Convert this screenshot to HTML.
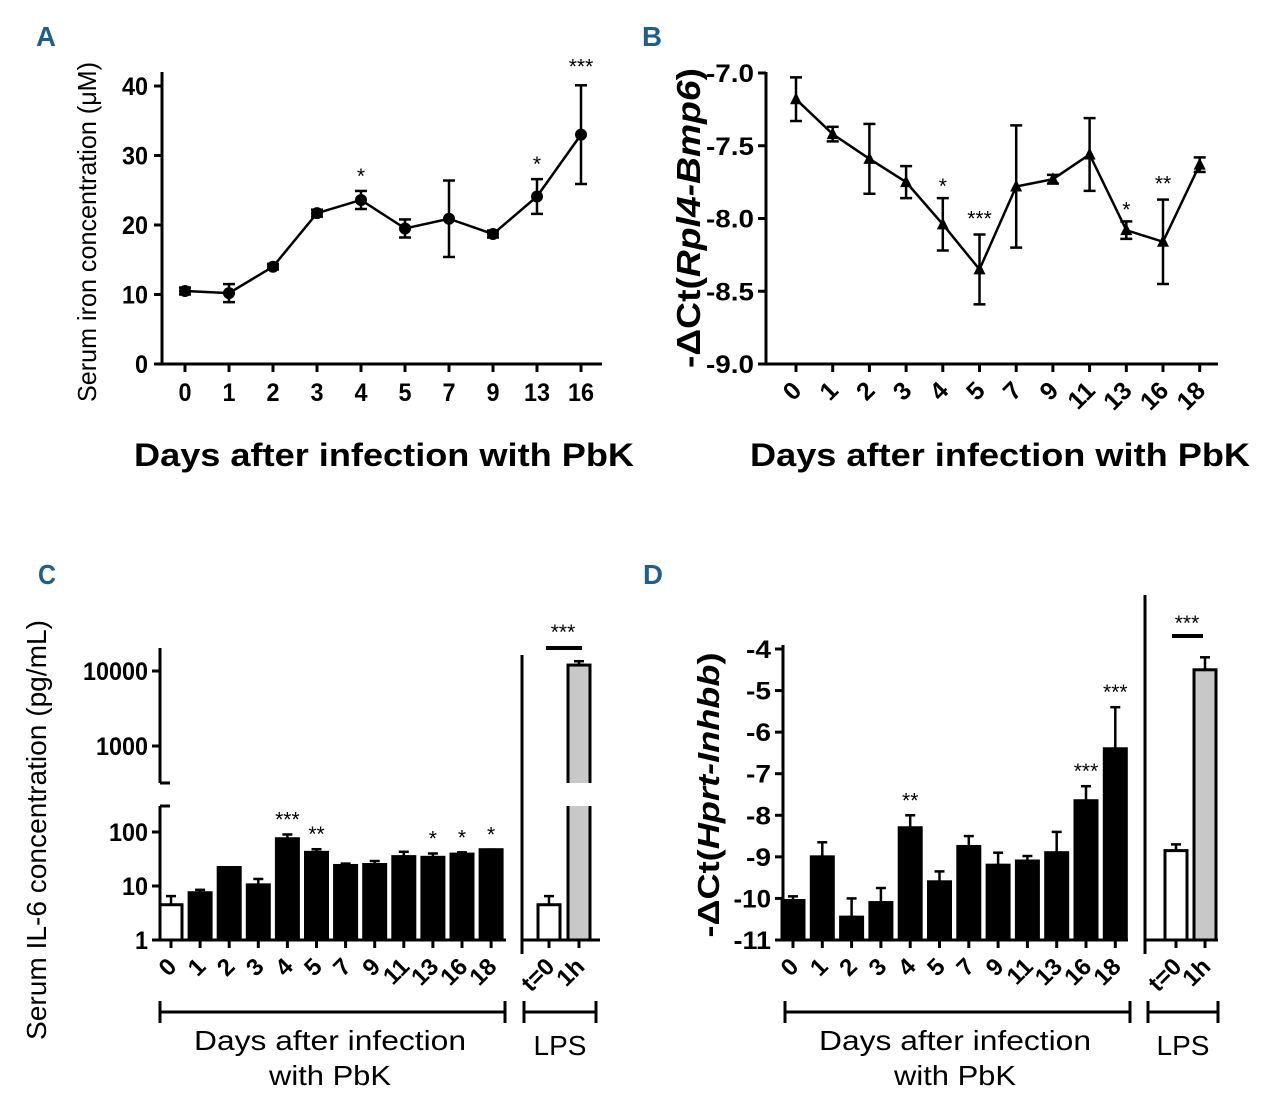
<!DOCTYPE html>
<html><head><meta charset="utf-8"><style>
body{margin:0;background:#fff}
svg{display:block;font-family:"Liberation Sans",sans-serif}
</style></head><body>
<svg id="fig" width="1280" height="1118" viewBox="0 0 1280 1118" xmlns="http://www.w3.org/2000/svg">
<g fill="#1f5f8b" font-weight="bold" font-size="28">
<text x="36" y="46" textLength="20" lengthAdjust="spacingAndGlyphs">A</text>
<text x="642" y="46" textLength="20" lengthAdjust="spacingAndGlyphs">B</text>
<text x="38" y="584" textLength="18" lengthAdjust="spacingAndGlyphs">C</text>
<text x="643" y="584" textLength="20" lengthAdjust="spacingAndGlyphs">D</text>
</g>
<g id="A"></g>
<g id="B"></g>
<g id="C"></g>
<g id="D"></g>
</svg>
<script>
// Panel A data
const aCats=["0","1","2","3","4","5","7","9","13","16"];
const aVals=[10.5,10.2,14,21.7,23.6,19.5,20.9,18.7,24.1,33];
const aErr=[0.5,1.3,0.4,0.5,1.3,1.3,5.5,0.5,2.5,7.1];
const aStars=["","","","","*","","","","*","***"];
const aTicks=[0,10,20,30,40];
// Panel B data
const bCats=["0","1","2","3","4","5","7","9","11","13","16","18"];
const bVals=[-7.18,-7.42,-7.59,-7.75,-8.04,-8.35,-7.78,-7.73,-7.56,-8.08,-8.16,-7.63];
const bErr=[0.15,0.05,0.24,0.11,0.18,0.24,0.42,0.03,0.25,0.06,0.29,0.05];
const bStars=["","","","","*","***","","","","*","**",""];
const bTicks=[-7.0,-7.5,-8.0,-8.5,-9.0];
// Panel C data
const cCats=["0","1","2","3","4","5","7","9","11","13","16","18"];
const cVals=[4.5,7.5,22,10.5,75,42,24,25,35,34,39,47];
const cErrTop=[6.5,8.5,22,13.5,90,48,26,29,43,40,42,47];
const cStars=["","","","","***","**","","","","*","*","*"];
const cLpsCats=["t=0","1h"];
const cLpsVals=[4.5,12000];
const cLpsErrTop=[6.5,13500];
const cTicksLow=[1,10,100];
const cTicksHigh=[1000,10000];
// Panel D data
const dCats=["0","1","2","3","4","5","7","9","11","13","16","18"];
const dVals=[-10.05,-9.0,-10.45,-10.1,-8.3,-9.6,-8.75,-9.2,-9.1,-8.9,-7.65,-6.4];
const dErrTop=[-9.95,-8.65,-10.0,-9.75,-8.0,-9.35,-8.5,-8.9,-8.98,-8.4,-7.3,-5.4];
const dStars=["","","","","**","","","","","","***","***"];
const dLpsCats=["t=0","1h"];
const dLpsVals=[-8.85,-4.5];
const dLpsErrTop=[-8.7,-4.2];
const dTicks=[-4,-5,-6,-7,-8,-9,-10,-11];

const NS="http://www.w3.org/2000/svg";
function mk(parent,tag,attrs,name,text){
  const el=document.createElementNS(NS,tag);
  for(const k in attrs) el.setAttribute(k,attrs[k]);
  
  
  if(text!==undefined) el.textContent=text;
  parent.appendChild(el);return el;
}
function line(p,x1,y1,x2,y2,name,w){return mk(p,'line',{x1,y1,x2,y2,stroke:'#000','stroke-width':w||3},name);}
function txt(p,x,y,s,name,o){
  const a=Object.assign({x,y,'font-size':22,'font-weight':'bold','text-anchor':'middle'},o||{});
  return mk(p,'text',a,name,s);
}
function errbar(p,x,y1,y2,w,name){line(p,x,y1,x,y2,name,2.5);line(p,x-w,y1,x+w,y1,name+'-cap',2.5);line(p,x-w,y2,x+w,y2,name+'-cap2',2.5);}
function rotLabel(g,x,y,c,fs){txt(g,x+7,y+28,c,'x-tick-label',{'font-size':fs,'text-anchor':'end',transform:`rotate(-45 ${x+7} ${y+28})`});}

// ---------- Panel A ----------
(function(){
  const g=document.getElementById('A');
  const x0=185,dx=44,ax=162,yb=364;
  const X=i=>x0+i*dx, Y=v=>yb-v*6.95;
  line(g,ax,72,ax,yb+1.5,'y-axis');
  line(g,ax-1.5,yb,602,yb,'x-axis');
  aTicks.forEach(t=>{line(g,ax-8,Y(t),ax,Y(t),'y-tick');txt(g,ax-14,Y(t)+9,String(t),'y-tick-label',{'text-anchor':'end','font-size':25,textLength:String(t).length*13,lengthAdjust:'spacingAndGlyphs'});});
  aCats.forEach((c,i)=>{line(g,X(i),yb,X(i),yb+8,'x-tick');txt(g,X(i),401,c,'x-tick-label',{'font-size':25,textLength:c.length*13,lengthAdjust:'spacingAndGlyphs'});});
  let d='';aVals.forEach((v,i)=>{d+=(i?'L':'M')+X(i)+' '+Y(v);});
  mk(g,'path',{d,fill:'none',stroke:'#000','stroke-width':2.5},'iron-line');
  aVals.forEach((v,i)=>{
    errbar(g,X(i),Y(v+aErr[i]),Y(v-aErr[i]),6,'error-bar');
    mk(g,'circle',{cx:X(i),cy:Y(v),r:6,fill:'#000'},'data-point');
    if(aStars[i]) txt(g,X(i),Y(v+aErr[i])-12+(aStars[i].length>1?0:4),aStars[i],'significance',{'font-weight':'normal','font-size':21});
  });
  txt(g,0,0,'Serum iron concentration (\u03bcM)','y-axis-title',{transform:'translate(96,232) rotate(-90)','font-weight':'normal','font-size':26,textLength:340,lengthAdjust:'spacingAndGlyphs'});
  txt(g,384,466,'Days after infection with PbK','x-axis-title',{'font-size':32,textLength:500,lengthAdjust:'spacingAndGlyphs'});
})();

// ---------- Panel B ----------
(function(){
  const g=document.getElementById('B');
  const x0=796,dx=36.7,ax=766,yb=364;
  const X=i=>x0+i*dx, Y=v=>73+(-7-v)*145.5;
  line(g,ax,72,ax,yb+1.5,'y-axis');
  line(g,ax-1.5,yb,1218,yb,'x-axis');
  bTicks.forEach(t=>{line(g,ax-8,Y(t),ax,Y(t),'y-tick');txt(g,ax-12,Y(t)+9,t.toFixed(1),'y-tick-label',{'text-anchor':'end','font-size':25,textLength:48,lengthAdjust:'spacingAndGlyphs'});});
  bCats.forEach((c,i)=>{line(g,X(i),yb,X(i),yb+8,'x-tick');rotLabel(g,X(i),yb,c,25);});
  let d='';bVals.forEach((v,i)=>{d+=(i?'L':'M')+X(i)+' '+Y(v);});
  mk(g,'path',{d,fill:'none',stroke:'#000','stroke-width':2.5},'bmp6-line');
  bVals.forEach((v,i)=>{
    errbar(g,X(i),Y(v+bErr[i]),Y(v-bErr[i]),6,'error-bar');
    const x=X(i),y=Y(v);
    mk(g,'path',{d:`M${x} ${y-7}L${x+6} ${y+5}L${x-6} ${y+5}Z`,fill:'#000'},'data-point');
    if(bStars[i]) txt(g,x,Y(v+bErr[i])-9+(bStars[i].length>1?0:4),bStars[i],'significance',{'font-weight':'normal','font-size':21});
  });
  const t=txt(g,0,0,'','y-axis-title',{transform:'translate(700,218) rotate(-90)','font-size':33,textLength:300,lengthAdjust:'spacingAndGlyphs'});
  t.innerHTML='-\u0394Ct(<tspan font-style="italic">Rpl4-Bmp6</tspan>)';
  txt(g,1000,466,'Days after infection with PbK','x-axis-title',{'font-size':32,textLength:500,lengthAdjust:'spacingAndGlyphs'});
})();

function bracket(g,x1,x2,y,name){line(g,x1,y,x2,y,name);line(g,x1,y-11,x1,y+11,name+'-end');line(g,x2,y-11,x2,y+11,name+'-end');}

// ---------- Panel C ----------
(function(){
  const g=document.getElementById('C');
  const x0=171,dx=29.1,ax=160,yb=940,bw=22;
  const X=i=>x0+i*dx;
  const YL=v=>yb-Math.log10(v)*54;
  const YH=v=>746-(Math.log10(v)-3)*75;
  const Y=v=>v>=400?YH(v):YL(v);
  line(g,ax,806,ax,yb+1.5,'y-axis-lower');
  line(g,ax,648,ax,783,'y-axis-upper');
  line(g,ax,806,ax+10,806,'break-tick');line(g,ax,783,ax+10,783,'break-tick');
  line(g,ax-1.5,yb,506,yb,'x-axis');
  line(g,522,655,522,yb+14,'lps-divider');
  line(g,522,yb,600,yb,'x-axis-lps');
  cTicksLow.forEach(t=>{line(g,ax-8,YL(t),ax,YL(t),'y-tick');txt(g,ax-12,YL(t)+9,String(t),'y-tick-label',{'text-anchor':'end','font-size':25,textLength:String(t).length*13,lengthAdjust:'spacingAndGlyphs'});});
  cTicksHigh.forEach(t=>{line(g,ax-8,YH(t),ax,YH(t),'y-tick');txt(g,ax-12,YH(t)+9,String(t),'y-tick-label',{'text-anchor':'end','font-size':25,textLength:String(t).length*13,lengthAdjust:'spacingAndGlyphs'});});
  cCats.forEach((c,i)=>{
    const x=X(i);
    errbar(g,x,YL(cErrTop[i]),YL(cVals[i]),5,'error-bar');
    mk(g,'rect',{x:x-bw/2,y:YL(cVals[i]),width:bw,height:yb-YL(cVals[i]),fill:i===0?'#fff':'#000',stroke:'#000','stroke-width':3},'bar-day-'+c);
    if(cStars[i]) txt(g,x,YL(cErrTop[i])-8,cStars[i],'significance',{'font-weight':'normal','font-size':21});
    line(g,x,yb,x,yb+8,'x-tick');
    rotLabel(g,x,yb,c,24);
  });
  const lx=[549,579];
  cLpsCats.forEach((c,i)=>{
    const x=lx[i],v=cLpsVals[i];
    const yt=Y(v), ye=Y(cLpsErrTop[i]);
    errbar(g,x,ye,yt,5,'error-bar');
    if(v>=400){
      mk(g,'rect',{x:x-bw/2,y:yt,width:bw,height:yb-yt,fill:'#c8c8c8',stroke:'#000','stroke-width':3},'bar-lps-'+c);
      mk(g,'rect',{x:x-bw/2-3,y:783,width:bw+6,height:23,fill:'#fff'},'axis-break-gap');
    } else {
      mk(g,'rect',{x:x-bw/2,y:yt,width:bw,height:yb-yt,fill:'#fff',stroke:'#000','stroke-width':3},'bar-lps-'+c);
    }
    line(g,x,yb,x,yb+8,'x-tick');
    rotLabel(g,x,yb,c,24);
  });
  line(g,546,648,582,648,'significance-bar',4);
  txt(g,563,639,'***','significance',{'font-weight':'normal','font-size':21});
  bracket(g,160,505,1012,'days-bracket');
  bracket(g,524,596,1012,'lps-bracket');
  txt(g,330,1050,'Days after infection','days-label',{'font-weight':'normal','font-size':28,textLength:272,lengthAdjust:'spacingAndGlyphs'});
  txt(g,330,1085,'with PbK','days-label-2',{'font-weight':'normal','font-size':28,textLength:122,lengthAdjust:'spacingAndGlyphs'});
  txt(g,560,1055,'LPS','lps-label',{'font-weight':'normal','font-size':28});
  txt(g,0,0,'Serum IL-6 concentration (pg/mL)','y-axis-title',{transform:'translate(46,830) rotate(-90)','font-weight':'normal','font-size':28,textLength:420,lengthAdjust:'spacingAndGlyphs'});
})();

// ---------- Panel D ----------
(function(){
  const g=document.getElementById('D');
  const x0=793,dx=29.3,ax=783,yb=940,bw=22;
  const X=i=>x0+i*dx;
  const Y=v=>649+(-4-v)*41.57;
  line(g,ax,645,ax,yb+1.5,'y-axis');
  line(g,ax-1.5,yb,1128,yb,'x-axis');
  line(g,1145,595,1145,yb+14,'lps-divider');
  line(g,1145,yb,1218,yb,'x-axis-lps');
  dTicks.forEach(t=>{line(g,ax-8,Y(t),ax,Y(t),'y-tick');txt(g,ax-12,Y(t)+9,String(t),'y-tick-label',{'text-anchor':'end','font-size':25,textLength:String(t).length*12.5,lengthAdjust:'spacingAndGlyphs'});});
  dCats.forEach((c,i)=>{
    const x=X(i);
    errbar(g,x,Y(dErrTop[i]),Y(dVals[i]),5,'error-bar');
    mk(g,'rect',{x:x-bw/2,y:Y(dVals[i]),width:bw,height:yb-Y(dVals[i]),fill:'#000',stroke:'#000','stroke-width':3},'bar-day-'+c);
    if(dStars[i]) txt(g,x,Y(dErrTop[i])-8,dStars[i],'significance',{'font-weight':'normal','font-size':21});
    line(g,x,yb,x,yb+8,'x-tick');
    rotLabel(g,x,yb,c,24);
  });
  const lx=[1176,1205];
  dLpsCats.forEach((c,i)=>{
    const x=lx[i],v=dLpsVals[i];
    errbar(g,x,Y(dLpsErrTop[i]),Y(v),5,'error-bar');
    mk(g,'rect',{x:x-bw/2,y:Y(v),width:bw,height:yb-Y(v),fill:i?'#c8c8c8':'#fff',stroke:'#000','stroke-width':3},'bar-lps-'+c);
    line(g,x,yb,x,yb+8,'x-tick');
    rotLabel(g,x,yb,c,24);
  });
  line(g,1172,636,1203,636,'significance-bar',4);
  txt(g,1187,630,'***','significance',{'font-weight':'normal','font-size':21});
  bracket(g,785,1130,1012,'days-bracket');
  bracket(g,1148,1218,1012,'lps-bracket');
  txt(g,955,1050,'Days after infection','days-label',{'font-weight':'normal','font-size':28,textLength:272,lengthAdjust:'spacingAndGlyphs'});
  txt(g,955,1085,'with PbK','days-label-2',{'font-weight':'normal','font-size':28,textLength:122,lengthAdjust:'spacingAndGlyphs'});
  txt(g,1183,1055,'LPS','lps-label',{'font-weight':'normal','font-size':28});
  const t=txt(g,0,0,'','y-axis-title',{transform:'translate(719,795) rotate(-90)','font-size':31,textLength:285,lengthAdjust:'spacingAndGlyphs'});
  t.innerHTML='-\u0394Ct(<tspan font-style="italic">Hprt-Inhbb</tspan>)';
})();
</script>
</body></html>
